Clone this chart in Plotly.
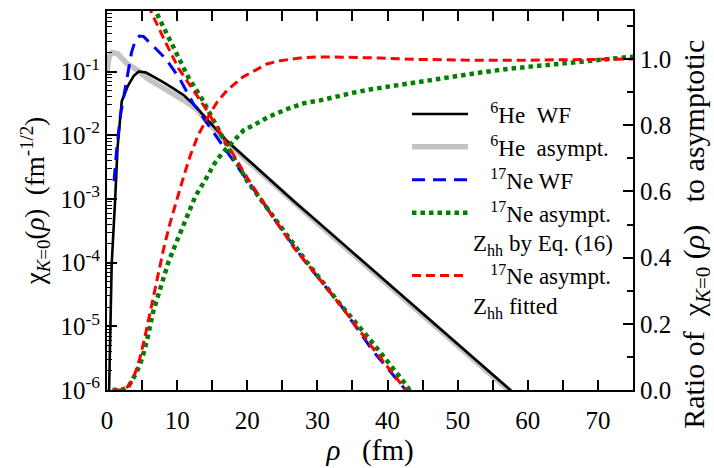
import plotly.graph_objects as go

# ---------------- data ----------------
# 6He wave function (left axis)
rho_he_wf = [0.3, 0.43, 0.67, 1.15, 1.5, 2.1, 3.0, 3.8, 4.5, 5.5, 6.65, 8.0, 9.5, 11.0, 12.4,
             14.26, 17.1, 20, 23, 26.6, 30, 35, 40, 45, 50, 55, 58.5]
chi_he_wf = [1.0e-6, 9.5e-6, 9.5e-5, 9.3e-4, 6.3e-3, 0.034, 0.060, 0.085, 0.100, 0.097, 0.083,
             0.068, 0.054, 0.042, 0.030, 0.0176, 8.1e-3, 4.2e-3, 2.1e-3, 9.3e-4, 4.4e-4,
             1.45e-4, 4.8e-5, 1.6e-5, 5.2e-6, 1.75e-6, 0.8e-6]

# 6He asymptotic (left axis)
rho_he_as = [0, 0.15, 0.3, 0.7, 1.5, 2.85, 4.5, 5.7, 7.5, 9.5, 11, 12.8, 14.26, 17.1, 20, 23,
             26.6, 30, 35, 40, 45, 50, 55, 59]
chi_he_as = [0.1, 0.14, 0.17, 0.20, 0.19, 0.133, 0.102, 0.078, 0.058, 0.044, 0.035, 0.0257,
             0.0166, 7.8e-3, 3.98e-3, 2.0e-3, 8.9e-4, 4.2e-4, 1.38e-4, 4.6e-5, 1.5e-5, 5.0e-6,
             1.66e-6, 0.68e-6]

# 17Ne wave function (left axis)
rho_ne_wf = [1.0, 1.4, 1.9, 2.85, 3.5, 4.0, 4.6, 5.2, 6.2, 7.2, 8.3, 9.4, 10.45, 12.4, 12.8,
             14.2, 15.7, 18.8, 21.9, 24.7, 28.5, 33.2, 38, 42.7, 43.5]
chi_ne_wf = [1.9e-3, 6.3e-3, 0.020, 0.079, 0.20, 0.30, 0.36, 0.355, 0.275, 0.214, 0.162, 0.11,
             0.074, 0.030, 0.027, 0.0158, 9.1e-3, 3.0e-3, 1.0e-3, 3.55e-4, 9.5e-5, 2.24e-5,
             4.0e-6, 1.0e-6, 7.6e-7]

# 17Ne asymptotic, Zhh by Eq. (16) (left axis)
rho_ne_eq = [6.6, 7.1, 8.3, 10.0, 11.65, 13.5, 15.7, 17.8, 20.0, 23.8, 28.5, 33, 38, 42.5, 43.6]
chi_ne_eq = [1.05, 0.81, 0.45, 0.18, 0.079, 0.038, 0.0129, 5.0e-3, 1.9e-3, 5.1e-4, 1.02e-4,
             2.4e-5, 5.3e-6, 1.26e-6, 8.5e-7]

# 17Ne asymptotic, Zhh fitted (left axis)
rho_ne_fit = [5.9, 6.4, 8.3, 10.2, 12.1, 14.0, 17.0, 20, 23.3, 26.6, 29.4, 33.2, 38, 42.7, 43.3]
chi_ne_fit = [1.12, 0.81, 0.295, 0.112, 0.055, 0.027, 7.6e-3, 2.14e-3, 6.0e-4, 1.74e-4, 7.4e-5,
              2.2e-5, 4.4e-6, 1.0e-6, 8.0e-7]

# ratio WF / asymptotic (right axis)
rho_ratio_eq = [0.8, 2.3, 3.1, 4.2, 5.0, 5.7, 6.6, 7.8, 8.8, 9.75, 11.2, 12.6, 14.3, 15.2, 16.4,
                18.1, 19.5, 20.9, 23.0, 25.7, 28.0, 30.4, 32.7, 35.1, 37.5, 39.9, 42.3, 44.6,
                48.2, 53.2, 57.5, 62.7, 67.4, 72.2, 75]
ratio_eq = [0.0, 0.002, 0.012, 0.052, 0.095, 0.15, 0.238, 0.32, 0.389, 0.439, 0.514, 0.585,
            0.645, 0.68, 0.715, 0.755, 0.785, 0.80, 0.825, 0.849, 0.866, 0.875, 0.887, 0.898,
            0.908, 0.916, 0.923, 0.929, 0.941, 0.959, 0.971, 0.981, 0.991, 1.001, 1.007]

rho_ratio_fit = [0.8, 2.0, 2.7, 3.3, 4.0, 4.7, 5.4, 6.1, 7.1, 8.1, 9.0, 10.0, 11.0, 11.9, 13.0,
                 14.26, 15.7, 17.1, 19.4, 22.8, 24.7, 27.5, 30, 32.3, 35, 38.9, 44, 48.4, 53,
                 57.9, 62, 67.5, 75]
ratio_fit = [0.0, 0.001, 0.006, 0.017, 0.05, 0.097, 0.16, 0.228, 0.328, 0.429, 0.505, 0.579,
             0.65, 0.71, 0.77, 0.82, 0.87, 0.905, 0.946, 0.985, 0.995, 1.003, 1.006, 1.006,
             1.005, 1.003, 0.999, 0.997, 0.996, 0.996, 0.997, 0.999, 1.0]

# tick labels
x_ticks = [0, 10, 20, 30, 40, 50, 60, 70]
y_ticks = [1e-6, 1e-5, 1e-4, 1e-3, 1e-2, 1e-1]
y_ticktext = ["10<sup>-6</sup>", "10<sup>-5</sup>", "10<sup>-4</sup>", "10<sup>-3</sup>",
              "10<sup>-2</sup>", "10<sup>-1</sup>"]
y_minor = [m * 10.0 ** e for e in range(-6, 0) for m in range(2, 10)]
y2_ticks = [0.0, 0.2, 0.4, 0.6, 0.8, 1.0]
y2_ticktext = ["0.0", "0.2", "0.4", "0.6", "0.8", "1.0"]

# ---------------- figure ----------------
FONT = "Liberation Serif"
NB = "\u00a0"


def fnt(size):
    return dict(family=FONT, size=size, color="black")


fig = go.Figure()

fig.add_trace(go.Scatter(x=rho_he_as, y=chi_he_as, mode="lines",
                         line=dict(color="#c3c3c3", width=5.5),
                         name=NB * 3 + "<sup>6</sup>He" + NB * 2 + "asympt.", legendrank=2))
fig.add_trace(go.Scatter(x=rho_he_wf, y=chi_he_wf, mode="lines",
                         line=dict(color="black", width=2.6),
                         name=NB * 3 + "<sup>6</sup>He" + NB * 2 + "WF", legendrank=1))
fig.add_trace(go.Scatter(x=rho_ne_wf, y=chi_ne_wf, mode="lines",
                         line=dict(color="#0000ff", width=3, dash="13px,8px"),
                         name=NB * 3 + "<sup>17</sup>Ne WF", legendrank=3))
fig.add_trace(go.Scatter(x=rho_ne_eq, y=chi_ne_eq, mode="lines",
                         line=dict(color="#008000", width=4.5, dash="4.5px,4px"),
                         name=NB * 3 + "<sup>17</sup>Ne asympt.<br>Z<sub>hh</sub> by Eq. (16)",
                         legendrank=4))
fig.add_trace(go.Scatter(x=rho_ne_fit, y=chi_ne_fit, mode="lines",
                         line=dict(color="#ff0000", width=3, dash="9px,5px"),
                         name=NB * 3 + "<sup>17</sup>Ne asympt.<br>Z<sub>hh</sub> fitted",
                         legendrank=5))
fig.add_trace(go.Scatter(x=rho_ratio_eq, y=ratio_eq, mode="lines", yaxis="y2",
                         line=dict(color="#008000", width=4.5, dash="4.5px,4px"),
                         showlegend=False))
fig.add_trace(go.Scatter(x=rho_ratio_fit, y=ratio_fit, mode="lines", yaxis="y2",
                         line=dict(color="#ff0000", width=3, dash="9px,5px"),
                         showlegend=False))

axis_common = dict(showline=True, linecolor="black", linewidth=2, showgrid=False,
                   zeroline=False, ticks="inside", tickcolor="black", tickwidth=1.5)

fig.update_layout(
    width=714, height=468,
    margin=dict(l=107, r=81, t=9, b=78),
    paper_bgcolor="white", plot_bgcolor="white",
    font=fnt(25),
    xaxis=dict(range=[0, 75], tickmode="array", tickvals=x_ticks, ticklen=10,
               minor=dict(ticks="inside", dtick=5, tick0=0, ticklen=6, tickcolor="black",
                          tickwidth=1.5),
               mirror="allticks", ticklabelstandoff=7,
               title=dict(text="<i>ρ</i>" + NB * 3 + "(fm)", font=fnt(29), standoff=0),
               tickfont=fnt(25), **axis_common),
    yaxis=dict(type="log", range=[-6, -0.05], tickmode="array", tickvals=y_ticks,
               ticktext=y_ticktext, ticklen=10,
               minor=dict(ticks="inside", tickmode="array", tickvals=y_minor, ticklen=5,
                          tickcolor="black", tickwidth=1.2),
               title=dict(text="χ<sub><i>K</i>=0</sub>(<i>ρ</i>)" + NB * 2 + "(fm<sup>-1/2</sup>)",
                          font=fnt(27), standoff=8),
               tickfont=fnt(25), **axis_common),
    yaxis2=dict(overlaying="y", side="right", range=[0, 1.145], tickmode="array",
                tickvals=y2_ticks, ticktext=y2_ticktext, ticklen=10,
                minor=dict(ticks="inside", dtick=0.1, tick0=0, ticklen=6, tickcolor="black",
                           tickwidth=1.5),
                tickfont=fnt(25), **axis_common),
    legend=dict(x=0.5703, y=0.785, xanchor="left", yanchor="top",
                bgcolor="rgba(0,0,0,0)", borderwidth=0,
                font=fnt(23), itemwidth=56, valign="top", tracegroupgap=0),
    showlegend=True,
    annotations=[dict(
        text="Ratio of" + NB * 2 + "χ<sub><i>K</i>=0</sub>" + NB + "(<i>ρ</i>)" + NB * 3 + "to asymptotic",
        textangle=-90, xref="paper", yref="paper", x=(696 - 107) / 526, y=(390 - 234) / 381,
        xanchor="center", yanchor="middle", showarrow=False, font=fnt(30))],
)

fig.write_html("out.html", config={"displayModeBar": False},
               post_script="document.body.style.margin='0px';")
